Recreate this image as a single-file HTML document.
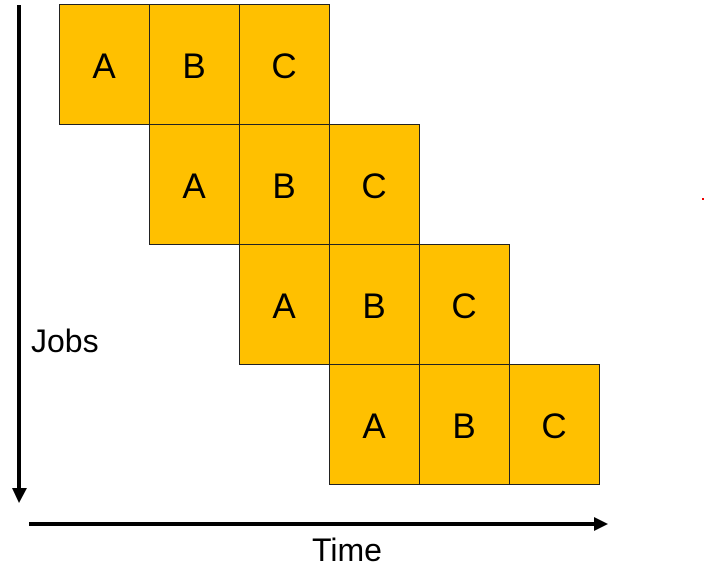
<!DOCTYPE html>
<html><head><meta charset="utf-8"><style>
body{margin:0;background:#fff;width:707px;height:571px;overflow:hidden}
</style></head><body>
<svg width="707" height="571" xmlns="http://www.w3.org/2000/svg" font-family="Liberation Sans, sans-serif">
<g fill="#FFC000" stroke="#222" stroke-width="1">
<rect x="59.5" y="4.5" width="90" height="120"/><rect x="149.5" y="4.5" width="90" height="120"/><rect x="239.5" y="4.5" width="90" height="120"/>
<rect x="149.5" y="124.5" width="90" height="120"/><rect x="239.5" y="124.5" width="90" height="120"/><rect x="329.5" y="124.5" width="90" height="120"/>
<rect x="239.5" y="244.5" width="90" height="120"/><rect x="329.5" y="244.5" width="90" height="120"/><rect x="419.5" y="244.5" width="90" height="120"/>
<rect x="329.5" y="364.5" width="90" height="120"/><rect x="419.5" y="364.5" width="90" height="120"/><rect x="509.5" y="364.5" width="90" height="120"/>
</g>
<g font-size="35" text-anchor="middle" fill="#000">
<text x="104" y="78">A</text><text x="194" y="78">B</text><text x="284" y="78">C</text>
<text x="194" y="198">A</text><text x="284" y="198">B</text><text x="374" y="198">C</text>
<text x="284" y="318">A</text><text x="374" y="318">B</text><text x="464" y="318">C</text>
<text x="374" y="438">A</text><text x="464" y="438">B</text><text x="554" y="438">C</text>
</g>
<line x1="19" y1="5" x2="19" y2="490" stroke="#000" stroke-width="4"/>
<polygon points="12,488 27,488 19,503" fill="#000"/>
<line x1="29" y1="524" x2="596" y2="524" stroke="#000" stroke-width="4"/>
<polygon points="594,517 594,531 608,524" fill="#000"/>
<text x="31" y="352" font-size="32">Jobs</text>
<text x="312" y="561" font-size="32">Time</text>
<rect x="702" y="198" width="2" height="2" fill="#e00"/>
</svg>
</body></html>
